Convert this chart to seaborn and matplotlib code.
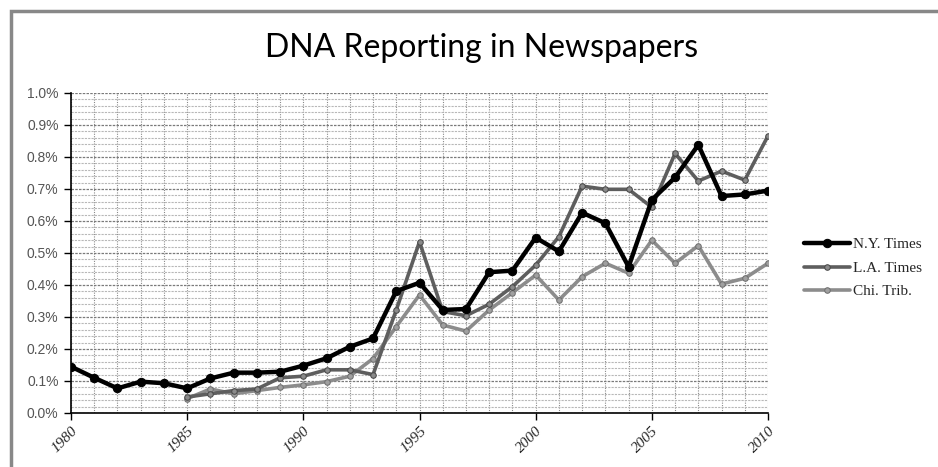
import numpy as np
import pandas as pd
import matplotlib
matplotlib.use("Agg")
import matplotlib.pyplot as plt
import seaborn as sns
from matplotlib.patches import Rectangle
from matplotlib.ticker import MultipleLocator, FuncFormatter

years_ny = list(range(1980, 2011))
ny_times = [0.145, 0.110, 0.077, 0.098, 0.093, 0.077, 0.108, 0.126, 0.126, 0.129,
            0.148, 0.171, 0.207, 0.233, 0.381, 0.407, 0.322, 0.325, 0.440, 0.445,
            0.548, 0.505, 0.626, 0.593, 0.457, 0.666, 0.736, 0.838, 0.678, 0.683, 0.695]

years_other = list(range(1985, 2011))
la_times = [0.050, 0.060, 0.070, 0.075, 0.110, 0.115, 0.135, 0.135, 0.120, 0.322,
            0.535, 0.317, 0.304, 0.340, 0.395, 0.462, 0.551, 0.709, 0.699, 0.699,
            0.643, 0.811, 0.725, 0.756, 0.728, 0.866]
chi_trib = [0.045, 0.075, 0.060, 0.070, 0.080, 0.088, 0.098, 0.115, 0.170, 0.270,
            0.369, 0.275, 0.256, 0.322, 0.376, 0.431, 0.353, 0.426, 0.468, 0.437,
            0.540, 0.468, 0.523, 0.403, 0.421, 0.468]

series_names = ["N.Y. Times", "L.A. Times", "Chi. Trib."]
title = "DNA Reporting in Newspapers"

sns.set_style("white")
plt.rcParams['font.family'] = ['Liberation Sans', 'DejaVu Sans']

fig = plt.figure(figsize=(9.38, 4.67), dpi=100)
ax = fig.add_axes([71/938, 1-413/467, (768-71)/938, (413-93)/467])

# grid
ax.set_xlim(1980, 2010)
ax.set_ylim(0, 1.0)
ax.xaxis.set_major_locator(MultipleLocator(5))
ax.xaxis.set_minor_locator(MultipleLocator(1))
ax.yaxis.set_major_locator(MultipleLocator(0.1))
ax.yaxis.set_minor_locator(MultipleLocator(0.02))
ax.grid(which='both', axis='x', color='#8a8a8a', linestyle=(0, (1, 1.2)), linewidth=0.8)
ax.grid(which='major', axis='y', color='#7a7a7a', linestyle=(0, (2, 1)), linewidth=0.9)
ax.grid(which='minor', axis='y', color='#b8b8b8', linestyle=(0, (2, 1)), linewidth=0.8)
ax.set_axisbelow(True)

sns.lineplot(x=years_other, y=chi_trib, ax=ax, color='#8c8c8c', linewidth=2.6,
             marker='o', markersize=4, markerfacecolor='#a0a0a0', markeredgecolor='#707070',
             label=series_names[2], zorder=3)
sns.lineplot(x=years_other, y=la_times, ax=ax, color='#5e5e5e', linewidth=2.6,
             marker='o', markersize=4, markerfacecolor='#8a8a8a', markeredgecolor='#4a4a4a',
             label=series_names[1], zorder=4)
sns.lineplot(x=years_ny, y=ny_times, ax=ax, color='black', linewidth=3.2,
             marker='o', markersize=6, markerfacecolor='black', markeredgecolor='black',
             label=series_names[0], zorder=5)

for s in ['top', 'right']:
    ax.spines[s].set_visible(False)
for s in ['left', 'bottom']:
    ax.spines[s].set_color('black')
    ax.spines[s].set_linewidth(1.2)

ax.yaxis.set_major_formatter(FuncFormatter(lambda v, p: f"{v:.1f}%"))
ax.tick_params(axis='y', which='major', direction='out', length=5, width=1, color='black',
               labelsize=10, labelcolor='#555555', pad=4, left=True)
ax.tick_params(axis='y', which='minor', length=0)
ax.tick_params(axis='x', which='major', direction='out', length=5, width=1, color='black',
               bottom=True, pad=3)
ax.tick_params(axis='x', which='minor', length=0)
ax.set_xticks([1980, 1985, 1990, 1995, 2000, 2005, 2010])
ax.set_xticklabels(["1980", "1985", "1990", "1995", "2000", "2005", "2010"],
                   rotation=45, ha='right', va='top', rotation_mode='anchor',
                   fontfamily='Liberation Serif', fontstyle='italic', fontsize=11)
ax.set_xlabel("")
ax.set_ylabel("")

# legend
handles, labels = ax.get_legend_handles_labels()
order = [labels.index(n) for n in series_names]
if ax.get_legend():
    ax.get_legend().remove()
leg = fig.legend([handles[i] for i in order], [labels[i] for i in order],
                 loc='center left', bbox_to_anchor=(804/938, 1-268/467),
                 frameon=False, prop={'family': 'Liberation Serif', 'size': 11},
                 handlelength=3.0, handletextpad=0.2, labelspacing=0.65,
                 borderaxespad=0, borderpad=0)

fig.text(0.513, 1-48/467, title, ha='center', va='center', fontsize=23,
         family=['Lato', 'DejaVu Sans'], color='black')

# chart border (only top and left visible in the crop)
fig.patches.append(Rectangle((11/938, -0.2), 1.2, (1-11/467) + 0.2, transform=fig.transFigure,
                             fill=False, edgecolor='#888888', linewidth=2.5, zorder=0))

fig.savefig("out.png", dpi=100, facecolor='white')
